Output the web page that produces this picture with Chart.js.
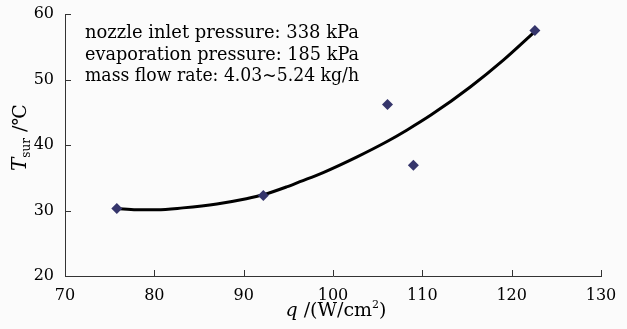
<!DOCTYPE html>
<html>
<head>
<meta charset="utf-8">
<script src="https://cdn.jsdelivr.net/npm/chart.js@4/dist/chart.umd.min.js"></script>
<style>
  html, body { margin: 0; padding: 0; background: #fbfbfb; }
  #wrap { width: 627px; height: 329px; }
</style>
</head>
<body>
<div id="wrap"><canvas id="myChart"></canvas></div>
<script>
// measured points (diamonds)
const measX = [75.8, 92.2, 106.1, 109.0, 122.6];
const measY = [30.3, 32.3, 46.2, 36.9, 57.5];

// fitted curve
const fitX = [75.8, 78.0, 80.3, 83.2, 87.0, 90.3, 92.2, 94.8, 96.3, 98.9, 102.7, 106.0, 108.3, 111.0, 115.4, 119.1, 122.5];
const fitY = [30.3, 30.1, 30.1, 30.4, 31.0, 31.8, 32.4, 33.6, 34.4, 35.8, 38.2, 40.5, 42.3, 44.6, 48.9, 53.0, 57.2];

const xTicks = [70, 80, 90, 100, 110, 120, 130];
const yTicks = [20, 30, 40, 50, 60];

const notes = [
  'nozzle inlet pressure: 338 kPa',
  'evaporation pressure: 185 kPa',
  'mass flow rate: 4.03~5.24 kg/h'
];

const serif = '"DejaVu Serif", "Liberation Serif", serif';

const extras = {
  id: 'extras',
  afterDraw(chart) {
    const ctx = chart.ctx;
    const xs = chart.scales.x, ys = chart.scales.y;
    const area = chart.chartArea;
    ctx.save();
    // inward tick marks
    ctx.strokeStyle = '#333';
    ctx.lineWidth = 1;
    ctx.beginPath();
    xTicks.forEach(v => {
      const px = Math.round(xs.getPixelForValue(v)) + 0.5;
      ctx.moveTo(px, area.bottom);
      ctx.lineTo(px, area.bottom - 6);
    });
    yTicks.forEach(v => {
      const py = Math.round(ys.getPixelForValue(v)) + 0.5;
      ctx.moveTo(area.left, py);
      ctx.lineTo(area.left + 6, py);
    });
    ctx.stroke();

    ctx.fillStyle = '#000';
    ctx.textBaseline = 'alphabetic';
    ctx.textAlign = 'left';

    // notes
    ctx.font = '18px ' + serif;
    notes.forEach((t, i) => {
      ctx.fillText(t, 85, 38 + i * 21.5, 274);
    });

    // x title: q /(W/cm2)
    const parts = [
      { t: 'q', f: 'italic 19px ' + serif, dy: 0 },
      { t: ' /(W/cm', f: '19px ' + serif, dy: 0 },
      { t: '2', f: '11px ' + serif, dy: -8 },
      { t: ')', f: '19px ' + serif, dy: 0 }
    ];
    let w = 0;
    parts.forEach(p => { ctx.font = p.f; w += ctx.measureText(p.t).width; });
    let x0 = (area.left + area.right) / 2 - w / 2 + 3;
    parts.forEach(p => {
      ctx.font = p.f;
      ctx.fillText(p.t, x0, 316 + p.dy);
      x0 += ctx.measureText(p.t).width;
    });

    // y title: T_sur /℃
    ctx.translate(26, 171);
    ctx.rotate(-Math.PI / 2);
    const yparts = [
      { t: 'T', f: 'italic 20px ' + serif, dy: 0 },
      { t: 'sur', f: '12px ' + serif, dy: 4 },
      { t: ' /℃', f: '19px ' + serif, dy: 0 }
    ];
    let y0 = 0;
    yparts.forEach(p => {
      ctx.font = p.f;
      ctx.fillText(p.t, y0, p.dy);
      y0 += ctx.measureText(p.t).width;
    });
    ctx.restore();
  }
};

const ctx = document.getElementById('myChart').getContext('2d');
new Chart(ctx, {
  type: 'scatter',
  data: {
    datasets: [
      {
        label: 'fit',
        data: fitX.map((x, i) => ({ x: x, y: fitY[i] })),
        showLine: true,
        borderColor: '#000',
        borderWidth: 3,
        pointRadius: 0,
        cubicInterpolationMode: 'monotone',
        order: 2
      },
      {
        label: 'measured',
        data: measX.map((x, i) => ({ x: x, y: measY[i] })),
        pointStyle: 'rectRot',
        pointRadius: 5.5,
        backgroundColor: '#35356b',
        borderColor: '#35356b',
        borderWidth: 0,
        order: 1
      }
    ]
  },
  options: {
    responsive: true,
    maintainAspectRatio: false,
    animation: false,
    layout: { padding: { top: 14, right: 26, left: 0, bottom: 0 } },
    plugins: {
      legend: { display: false },
      tooltip: { enabled: false }
    },
    scales: {
      x: {
        type: 'linear',
        min: 70,
        max: 130,
        afterBuildTicks: s => { s.ticks = xTicks.map(v => ({ value: v })); },
        afterFit: s => { s.height = 53; },
        grid: { display: false },
        border: { display: true, color: '#333', width: 1 },
        ticks: { color: '#000', padding: 2, font: { family: serif, size: 16 } }
      },
      y: {
        min: 20,
        max: 60,
        afterBuildTicks: s => { s.ticks = yTicks.map(v => ({ value: v })); },
        afterFit: s => { s.width = 65; },
        grid: { display: false },
        border: { display: true, color: '#333', width: 1 },
        ticks: { color: '#000', padding: 3, font: { family: serif, size: 16 } }
      }
    }
  },
  plugins: [extras]
});
</script>
</body>
</html>
